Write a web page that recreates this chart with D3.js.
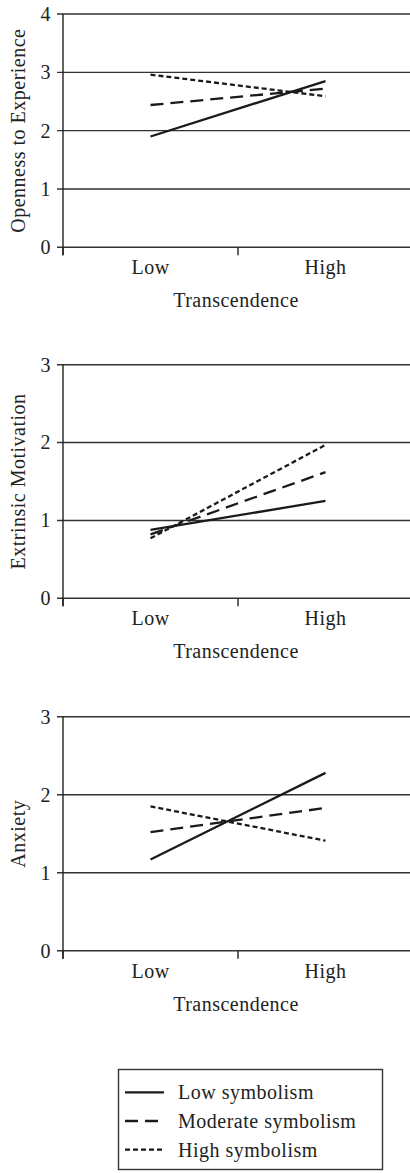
<!DOCTYPE html>
<html>
<head>
<meta charset="utf-8">
<script src="https://cdn.jsdelivr.net/npm/d3@7"></script>
<style>
  body { margin: 0; background: #fff; }
  svg text { font-family: "Liberation Serif", "DejaVu Serif", serif; fill: #222; letter-spacing: 0.5px; }
</style>
</head>
<body>
<div id="painting"></div>
<script>
// data
var levels = ["Low", "High"];
var seriesNames = ["Low symbolism", "Moderate symbolism", "High symbolism"];
var xTitle = "Transcendence";

var opennessTitle = "Openness to Experience";
var opennessMax = 4;
var openness = [[1.90, 2.85], [2.44, 2.72], [2.96, 2.59]];

var extrinsicTitle = "Extrinsic Motivation";
var extrinsicMax = 3;
var extrinsic = [[0.88, 1.25], [0.82, 1.62], [0.77, 1.97]];

var anxietyTitle = "Anxiety";
var anxietyMax = 3;
var anxiety = [[1.17, 2.28], [1.52, 1.83], [1.85, 1.41]];

var dashes = [null, "13,7", "5,3"];

var W = 410, H = 1173;
var fs = 20;
var svg = d3.select("#painting").append("svg")
  .attr("width", W).attr("height", H);

var left = 63, right = 413;

var panel = function(title, ymax, data, top, bottom) {
  var g = svg.append("g");
  var x = d3.scaleBand().domain(levels).range([left, right]);
  var y = d3.scaleLinear().domain([0, ymax]).range([bottom, top]);

  // horizontal gridlines with little outside ticks
  g.selectAll("line.grid")
    .data(d3.range(0, ymax + 1))
    .enter().append("line")
    .attr("class", "grid")
    .attr("x1", left - 6).attr("x2", W)
    .attr("y1", function(d) { return y(d); })
    .attr("y2", function(d) { return y(d); })
    .attr("stroke", "#333").attr("stroke-width", 1.4);

  // y tick labels
  var yAxis = d3.axisLeft(y).ticks(ymax).tickFormat(d3.format("d")).tickSize(6).tickPadding(6);
  var ya = g.append("g").attr("transform", "translate(" + left + ",0)").call(yAxis);
  ya.select(".domain").remove();
  ya.selectAll("line").remove();
  ya.selectAll("text").attr("font-size", fs).attr("fill", "#222");

  // vertical axis line
  g.append("line")
    .attr("x1", left).attr("x2", left)
    .attr("y1", y(ymax)).attr("y2", y(0) + 8)
    .attr("stroke", "#222").attr("stroke-width", 1.4);

  // x axis labels at band centres
  var xAxis = d3.axisBottom(x).tickSize(0).tickPadding(13);
  var xa = g.append("g").attr("transform", "translate(0," + y(0) + ")").call(xAxis);
  xa.select(".domain").remove();
  xa.selectAll("text").attr("font-size", fs).attr("fill", "#222");

  // boundary ticks between categories
  g.selectAll("line.xtick")
    .data(d3.range(levels.length + 1))
    .enter().append("line")
    .attr("class", "xtick")
    .attr("x1", function(i) { return left + i * x.step(); })
    .attr("x2", function(i) { return left + i * x.step(); })
    .attr("y1", y(0)).attr("y2", y(0) + 8)
    .attr("stroke", "#222").attr("stroke-width", 1.4);

  g.append("text")
    .attr("x", (left + right) / 2 - 2).attr("y", y(0) + 60)
    .attr("text-anchor", "middle").attr("font-size", fs)
    .text(xTitle);

  g.append("text")
    .attr("transform", "translate(25," + ((top + bottom) / 2) + ") rotate(-90)")
    .attr("text-anchor", "middle").attr("font-size", fs)
    .text(title);

  var line = d3.line()
    .x(function(d, i) { return x(levels[i]) + x.bandwidth() / 2; })
    .y(function(d) { return y(d); });

  g.selectAll("path.series")
    .data(data)
    .enter().append("path")
    .attr("class", "series")
    .attr("d", line)
    .attr("fill", "none")
    .attr("stroke", "#1a1a1a")
    .attr("stroke-width", 2.3)
    .attr("stroke-dasharray", function(d, i) { return dashes[i]; });
};

panel(opennessTitle, opennessMax, openness, 14, 247.3);
panel(extrinsicTitle, extrinsicMax, extrinsic, 364.7, 598.3);
panel(anxietyTitle, anxietyMax, anxiety, 716.7, 950.7);

// legend
var lg = svg.append("g");
lg.append("rect")
  .attr("x", 118.5).attr("y", 1069.5)
  .attr("width", 264).attr("height", 100)
  .attr("fill", "none").attr("stroke", "#333").attr("stroke-width", 1.4);

var ly = d3.scaleBand().domain(seriesNames).range([1078, 1164]);
seriesNames.forEach(function(name, i) {
  var cy = ly(name) + ly.bandwidth() / 2;
  lg.append("line")
    .attr("x1", 125).attr("x2", 164)
    .attr("y1", cy).attr("y2", cy)
    .attr("stroke", "#1a1a1a").attr("stroke-width", 2.3)
    .attr("stroke-dasharray", dashes[i]);
  lg.append("text")
    .attr("x", 178).attr("y", cy + 7)
    .attr("font-size", fs)
    .text(name);
});
</script>
</body>
</html>
